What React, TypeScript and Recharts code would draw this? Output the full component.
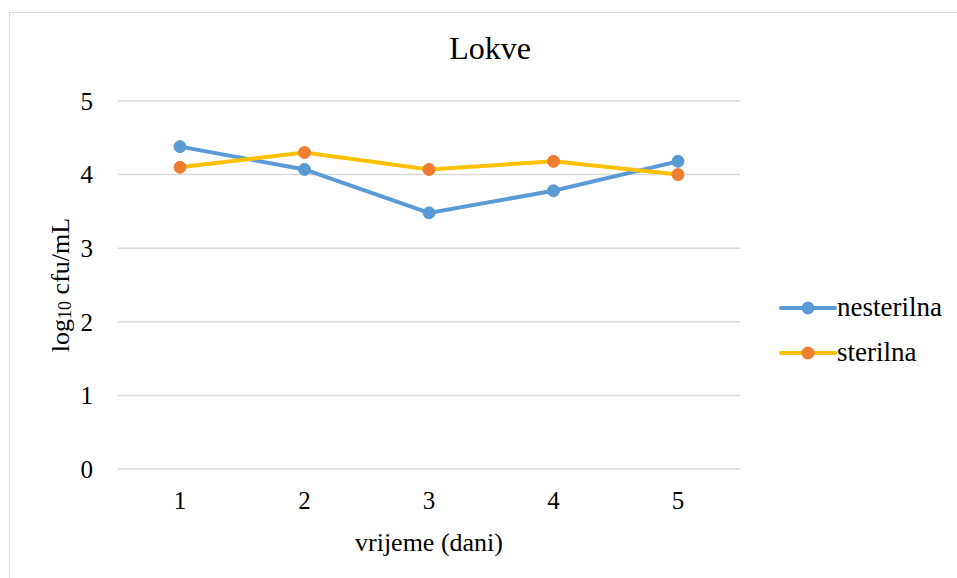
import React from "react";
import { LineChart, Line, XAxis, YAxis, CartesianGrid } from "recharts";

const days = ["1", "2", "3", "4", "5"];
const nesterilna = [4.38, 4.07, 3.48, 3.78, 4.18];
const sterilna = [4.1, 4.3, 4.07, 4.18, 4.0];
const yTicks = [0, 1, 2, 3, 4, 5];

const data = days.map((d, i) => ({ day: d, nesterilna: nesterilna[i], sterilna: sterilna[i] }));

const FONT = '"Liberation Serif", "Times New Roman", serif';
const BLUE = "#5B9BD5";
const YELLOW = "#FFC000";
const ORANGE = "#ED7D31";

const legendItems = [
  { name: "nesterilna", line: BLUE, dot: BLUE },
  { name: "sterilna", line: YELLOW, dot: ORANGE },
];

function ChartLegend() {
  return (
    <div style={{ position: "absolute", left: 779, top: 285, fontFamily: FONT, fontSize: 27, color: "#000" }}>
      {legendItems.map((it) => (
        <div key={it.name} style={{ display: "flex", alignItems: "center", height: 45 }}>
          <svg width={58} height={14}>
            <line x1={2} y1={7} x2={56} y2={7} stroke={it.line} strokeWidth={4} strokeLinecap="round" />
            <circle cx={29} cy={7} r={6.5} fill={it.dot} />
          </svg>
          <span>{it.name}</span>
        </div>
      ))}
    </div>
  );
}

function YTitle({ viewBox }: any) {
  const cx = 60;
  const cy = viewBox.y + viewBox.height / 2;
  return (
    <text
      x={cx}
      y={cy}
      transform={`rotate(-90 ${cx} ${cy})`}
      textAnchor="middle"
      dominantBaseline="central"
      fontFamily={FONT}
      fontSize={26}
      fill="#000"
    >
      log<tspan fontSize={18} dy={5}>10</tspan>
      <tspan dy={-5}> cfu/mL</tspan>
    </text>
  );
}

function XTitle({ viewBox }: any) {
  const cx = viewBox.x + viewBox.width / 2;
  return (
    <text x={cx} y={551} textAnchor="middle" fontFamily={FONT} fontSize={26} fill="#000">
      vrijeme (dani)
    </text>
  );
}

export default function App() {
  return (
    <div
      style={{
        position: "absolute",
        left: 0,
        top: 0,
        width: 957,
        height: 578,
        overflow: "hidden",
        background: "#fff",
        fontFamily: FONT,
      }}
    >
      <div
        style={{
          position: "absolute",
          left: 9,
          top: 12,
          width: 980,
          height: 600,
          borderLeft: "1.5px solid #d9d9d9",
          borderTop: "1.5px solid #d9d9d9",
        }}
      />
      <div
        style={{
          position: "absolute",
          left: 0,
          top: 30,
          width: 980,
          textAlign: "center",
          fontSize: 32,
          color: "#000",
        }}
      >
        Lokve
      </div>
      <div style={{ position: "absolute", left: 0, top: 0 }}>
        <LineChart
          width={957}
          height={578}
          data={data}
          margin={{ top: 101, right: 217, bottom: 69, left: 58 }}
          style={{ fontFamily: FONT }}
        >
          <CartesianGrid horizontal vertical={false} stroke="#d9d9d9" strokeWidth={1.5} />
          <XAxis
            dataKey="day"
            axisLine={false}
            tickLine={false}
            tickSize={0}
            tickMargin={22}
            height={40}
            padding={{ left: 62, right: 62 }}
            tick={{ fontFamily: FONT, fontSize: 25, fill: "#000" }}
            label={{ content: XTitle }}
          />
          <YAxis
            domain={[0, 5]}
            ticks={yTicks}
            axisLine={false}
            tickLine={false}
            tickSize={0}
            tickMargin={25}
            width={60}
            tick={{ fontFamily: FONT, fontSize: 25, fill: "#000" }}
            label={{ content: YTitle }}
          />
          <Line
            dataKey="nesterilna"
            stroke={BLUE}
            strokeWidth={4}
            dot={{ r: 6, fill: BLUE, stroke: BLUE, strokeWidth: 1 }}
            isAnimationActive={false}
          />
          <Line
            dataKey="sterilna"
            stroke={YELLOW}
            strokeWidth={4}
            dot={{ r: 6, fill: ORANGE, stroke: ORANGE, strokeWidth: 1 }}
            isAnimationActive={false}
          />
        </LineChart>
      </div>
      <ChartLegend />
    </div>
  );
}
